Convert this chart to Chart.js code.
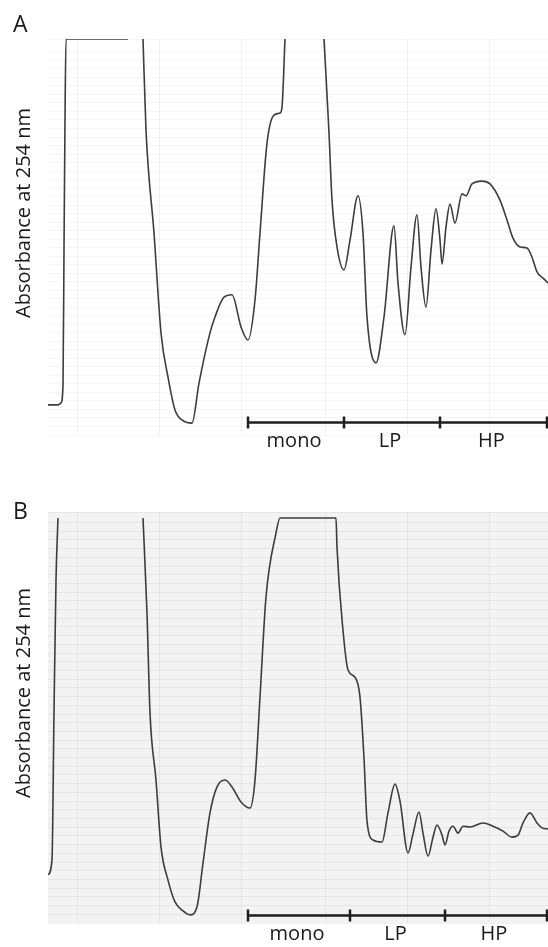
<!DOCTYPE html>
<html>
<head>
<meta charset="utf-8">
<script src="https://cdn.jsdelivr.net/npm/chart.js@4"></script>
<style>
  body { margin: 0; background: #fff; font-family: "Open Sans", sans-serif; }
  #wrap { position: relative; width: 548px; height: 947px; }
  .panel { position: absolute; left: 0; width: 548px; }
  .letter { position: absolute; left: 13px; font-size: 23px; color: #1a1a1a; line-height: 1; }
  .ytitle { position: absolute; font-size: 20px; color: #1a1a1a; white-space: nowrap;
            transform: translate(-50%, -50%) rotate(-90deg); }
</style>
</head>
<body>
<div id="wrap">
  <div class="panel" style="top:0;height:474px"><canvas id="chartA" width="548" height="474"></canvas></div>
  <div class="panel" style="top:474px;height:473px"><canvas id="chartB" width="548" height="473"></canvas></div>
  <div class="letter" style="top:12px">A</div>
  <div class="letter" style="top:499px">B</div>
  <div class="ytitle" style="left:22px;top:213px">Absorbance at 254 nm</div>
  <div class="ytitle" style="left:22px;top:693px">Absorbance at 254 nm</div>
</div>
<script>
// elution position (arbitrary units) and absorbance (% of full scale), null = pen off scale
const volumeA = [0, 10, 13, 15, 16, 17, 18, 80, 87, 95, 98, 106, 113, 120, 127, 134, 144, 151, 162, 167, 176, 184, 193, 200, 207, 212, 219, 226, 232, 234, 237, 256,
  276, 281, 284, 289, 296, 302, 310, 315, 319, 328, 336, 346, 350, 357, 363, 369, 373, 378, 383, 388, 392, 394, 398, 402, 407, 414, 418, 424, 434, 442, 452, 459, 465, 472, 479, 484, 489, 495, 500];
const absA = [7.6, 7.6, 8.1, 12.6, 46.7, 79.5, 100, 100, null, 100, 77.0, 51.0, 25.8, 14.6, 6.3, 3.8, 3.0, 13.1, 25.8, 29.8, 34.8, 35.4, 27.3, 24.0, 34.1, 51.0, 73.7, 80.8, 81.3, 82.8, 100, null,
  100, 76.3, 59.3, 47.5, 41.7, 49.2, 60.4, 51.0, 29.8, 18.2, 29.8, 52.8, 38.4, 25.3, 42.4, 55.6, 42.4, 32.3, 46.7, 57.1, 49.2, 43.2, 52.5, 58.3, 53.5, 60.9, 60.4, 63.4, 64.1, 63.4, 59.3, 54.3, 49.7, 47.5, 47.2, 44.9, 41.2, 39.6, 38.4];

const volumeB = [0, 4, 6, 8, 10, 50, 95, 99, 102, 108, 113, 120, 127, 134, 142, 149, 155, 162, 169, 177, 184, 193, 202, 207, 212, 218, 228, 232, 288, 289, 295, 300, 307, 312, 316, 319, 325,
  334, 340, 347, 352, 360, 365, 371, 375, 380, 385, 389, 394, 397, 401, 405, 410, 415, 422, 435, 445, 455, 464, 470, 475, 482, 489, 494, 500];
const absB = [11.9, 15.6, 51.9, 84.7, 100, null, 100, 76.5, 51.9, 35.3, 18.8, 10.6, 5.2, 3.2, 2.0, 4.0, 14.8, 27.2, 33.6, 35.3, 33.6, 29.9, 28.4, 35.3, 55.8, 80.5, 96.3, 100, 100, 92.8, 72.3, 62.5, 60.7, 55.8, 40.7, 25.2, 20.5,
  20.0, 27.2, 34.3, 30.1, 17.3, 22.0, 27.4, 22.2, 16.5, 21.2, 24.2, 21.7, 19.3, 22.7, 23.9, 22.2, 23.9, 23.7, 24.7, 23.9, 22.7, 21.2, 21.7, 24.7, 27.2, 24.7, 23.5, 23.2];

// fraction pools marked under the trace
const fractionLabels = ['mono', 'LP', 'HP'];
const fractionEdgesA = [200, 296, 392, 499];
const fractionEdgesB = [200, 302, 397, 499];

// chart-paper rulings
const paperX = [29, 111, 193, 277, 359, 441];

const fractionBar = {
  id: 'fractionBar',
  afterDraw(chart, args, opts) {
    const ctx = chart.ctx;
    const x = chart.scales.x, y = chart.scales.y;
    const yy = Math.round(y.getPixelForValue(opts.level)) + 0.5;
    const px = opts.edges.map(v => x.getPixelForValue(v));
    ctx.save();
    ctx.strokeStyle = '#1e1e1e';
    ctx.lineWidth = 2.5;
    ctx.beginPath();
    ctx.moveTo(px[0], yy);
    ctx.lineTo(px[px.length - 1], yy);
    px.forEach(p => { ctx.moveTo(p, yy - 6); ctx.lineTo(p, yy + 6); });
    ctx.stroke();
    ctx.fillStyle = '#1a1a1a';
    ctx.font = '20px "Open Sans", sans-serif';
    ctx.textAlign = 'center';
    ctx.textBaseline = 'middle';
    fractionLabels.forEach((t, i) => ctx.fillText(t, (px[i] + px[i + 1]) / 2 - 2, yy + 19));
    ctx.restore();
  }
};

const paperBg = {
  id: 'paperBg',
  beforeDraw(chart, args, opts) {
    const a = chart.chartArea;
    chart.ctx.save();
    chart.ctx.fillStyle = opts.color;
    chart.ctx.fillRect(a.left, a.top, a.right - a.left, a.bottom - a.top);
    chart.ctx.restore();
  }
};

function drawTrace(id, vols, abs, edges, yMax, pad, bg, gridAlpha, level) {
  new Chart(document.getElementById(id), {
    type: 'line',
    data: {
      datasets: [{
        data: vols.map((v, i) => ({ x: v, y: abs[i] })),
        borderColor: '#3d3d3d',
        borderWidth: 1.6,
        pointRadius: 0,
        cubicInterpolationMode: 'monotone',
        spanGaps: false,
        fill: false
      }]
    },
    options: {
      responsive: false,
      animation: false,
      events: [],
      layout: { padding: pad },
      plugins: {
        legend: { display: false },
        tooltip: { enabled: false },
        paperBg: { color: bg },
        fractionBar: { edges: edges, level: level }
      },
      scales: {
        x: {
          type: 'linear', min: 0, max: 500,
          afterBuildTicks: s => { s.ticks = paperX.map(v => ({ value: v })); },
          ticks: { display: false },
          grid: { color: 'rgba(0,0,0,0.05)', drawTicks: false },
          border: { display: false }
        },
        y: {
          min: 0, max: yMax,
          ticks: { display: false, stepSize: 2.15 },
          grid: { color: 'rgba(0,0,0,' + gridAlpha + ')', drawTicks: false },
          border: { display: false }
        }
      }
    },
    plugins: [paperBg, fractionBar]
  });
}

drawTrace('chartA', volumeA, absA, fractionEdgesA, 100, { left: 48, right: 0, top: 39, bottom: 39 }, '#ffffff', 0.035, 3.3);
drawTrace('chartB', volumeB, absB, fractionEdgesB, 101.5, { left: 48, right: 0, top: 38, bottom: 24 }, '#f3f3f3', 0.05, 2.0);
</script>
</body>
</html>
